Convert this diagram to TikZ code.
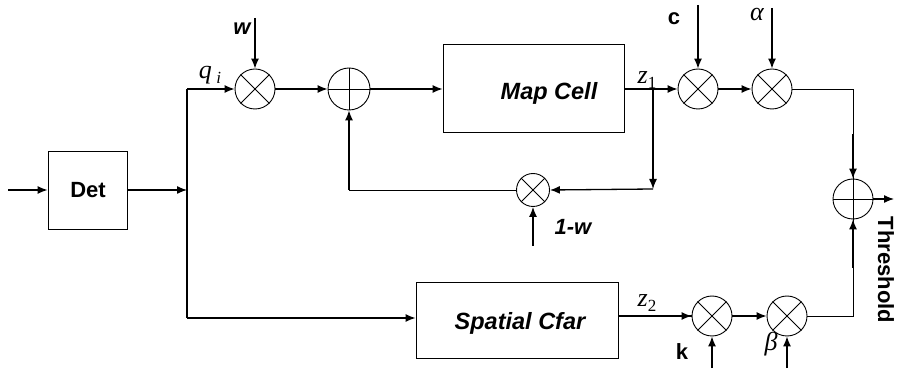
\documentclass[tikz,border=0pt]{standalone}
\usepackage{fontspec}
\setmainfont{Liberation Serif}
\setsansfont{Liberation Sans}
\usetikzlibrary{arrows.meta,calc}

\newcommand\subsz{\fontsize{17}{18}\selectfont}

\tikzset{
  wire/.style={line width=1.3pt},
  thinwire/.style={line width=0.8pt},
  tip/.style={-{Latex[length=10pt,width=8pt]}},
  arr/.style={wire,tip},
  blk/.style={draw,line width=0.9pt,inner sep=0},
  junc/.style={circle,draw,line width=0.9pt,inner sep=0,minimum size=#1},
  junc/.default=40pt,
  blktext/.style={font=\fontsize{23.5}{26}\selectfont\sffamily\bfseries\itshape},
  lbl/.style={font=\fontsize{22}{24}\selectfont\sffamily\bfseries},
  lbli/.style={font=\fontsize{22}{24}\selectfont\sffamily\bfseries\itshape},
  mlbl/.style={font=\fontsize{26}{28}\selectfont\rmfamily\itshape},
}

\begin{document}
\begin{tikzpicture}[x=1pt,y=-1pt]
\useasboundingbox (0,0) rectangle (897,371);

% blocks
\node[blk,minimum width=79pt,minimum height=78pt] (det) at (87.5,190) {};
\node[lbl] (dettext) at (88,190) {Det};
\node[blk,minimum width=181pt,minimum height=88pt] (mc) at (533.5,88) {};
\node[blktext] (mctext) at (549,93) {Map Cell};
\node[blk,minimum width=202pt,minimum height=76pt] (sc) at (517,320) {};
\node[blktext] (sctext) at (520,323) {Spatial Cfar};

% multipliers and adders
\node[junc] (m1) at (255,89) {};
\node[junc=42pt] (a1) at (349,89) {};
\node[junc] (m2) at (698,89) {};
\node[junc] (m3) at (772,89) {};
\node[junc=33pt] (m4) at (533,190) {};
\node[junc] (m5) at (712,316) {};
\node[junc] (m6) at (787,316) {};
\node[junc] (s) at (853,199) {};

\foreach \m in {m1,m2,m3,m4,m5,m6}{
  \draw[line width=0.9pt] (\m.45) -- (\m.225) (\m.135) -- (\m.315);
}
\foreach \m in {a1,s}{
  \draw[line width=0.9pt] (\m.north) -- (\m.south) (\m.east) -- (\m.west);
}

% helper points
\coordinate (in) at (8,190);
\coordinate (j) at (187,190);
\coordinate (jt) at (187,89);
\coordinate (jb) at (187,318);
\coordinate (b) at (653,89);
\coordinate (fbc) at (653,189);
\coordinate (fbl) at (349,190);
\coordinate (tr) at (853,89);
\coordinate (br) at (853,316);
\coordinate (out) at (894,199);
\coordinate (wsrc) at (255,18);
\coordinate (csrc) at (698,5);
\coordinate (asrc) at (772,8);
\coordinate (wwsrc) at (533,246);
\coordinate (ksrc) at (712,368);
\coordinate (bsrc) at (787,368);

% signal path
\draw[arr] (in) -- (det.west |- in);
\draw[arr] (det.east |- j) -- (j);
\draw[wire] (jt) -- (jb);
\draw[arr] (jt) -- (m1.west);
\draw[arr] (jb) -- (sc.west |- jb);
\draw[arr] (m1.east) -- (a1.west);
\draw[arr] (a1.east) -- (a1.east -| mc.west);
\draw[wire] (mc.east |- b) -- (b);
\draw[arr] (b) -- (m2.west);
\draw[arr] (m2.east) -- (m3.west);
\draw[thinwire] (m3.east) -- (tr) -- (s.north);
\draw[arr] ($(tr)!0.5!(s.north)$) -- (s.north);

% feedback loop
\draw[arr] (b) -- (fbc);
\draw[arr] (fbc) -- (m4.east);
\draw[thinwire] (m4.west) -- (fbl);
\draw[arr] (fbl) -- (a1.south);

% lower branch
\draw[wire] (sc.east |- m5) -- (m5.west);
\draw[arr] ($(sc.east |- m5)!0.5!(m5.west)$) -- (m5.west);
\draw[arr] (m5.east) -- (m6.west);
\draw[thinwire] (m6.east) -- (br) -- (s.south);
\draw[arr] ($(br)!0.5!(s.south)$) -- (s.south);
\draw[arr] (s.east) -- (out);

% gain inputs
\draw[arr] (wsrc) -- (m1.north);
\draw[arr] (csrc) -- (m2.north);
\draw[arr] (asrc) -- (m3.north);
\draw[arr] (wwsrc) -- (m4.south);
\draw[arr] (ksrc) -- (m5.south);
\draw[arr] (bsrc) -- (m6.south);

% labels
\node[lbli] (wl) at (242,29) {w};
\node[mlbl,anchor=base] (ql) at (210,79) {q\,\raisebox{-0.35ex}{\subsz i}};
\node[lbl] (cl) at (674,19) {c};
\node[mlbl] (al) at (757,15) {α};
\node[mlbl,anchor=base] (z1) at (647,84) {z\raisebox{-0.35ex}{\subsz\upshape 1}};
\node[lbli] (wwl) at (573,227) {1-w};
\node[mlbl,anchor=base] (z2) at (647,307) {z\raisebox{-0.35ex}{\subsz\upshape 2}};
\node[lbl] (kl) at (682,352) {k};
\node[mlbl] (bl) at (771,344) {β};
\node[lbl,rotate=-90] (thr) at (886,270) {Threshold};
\end{tikzpicture}
\end{document}
